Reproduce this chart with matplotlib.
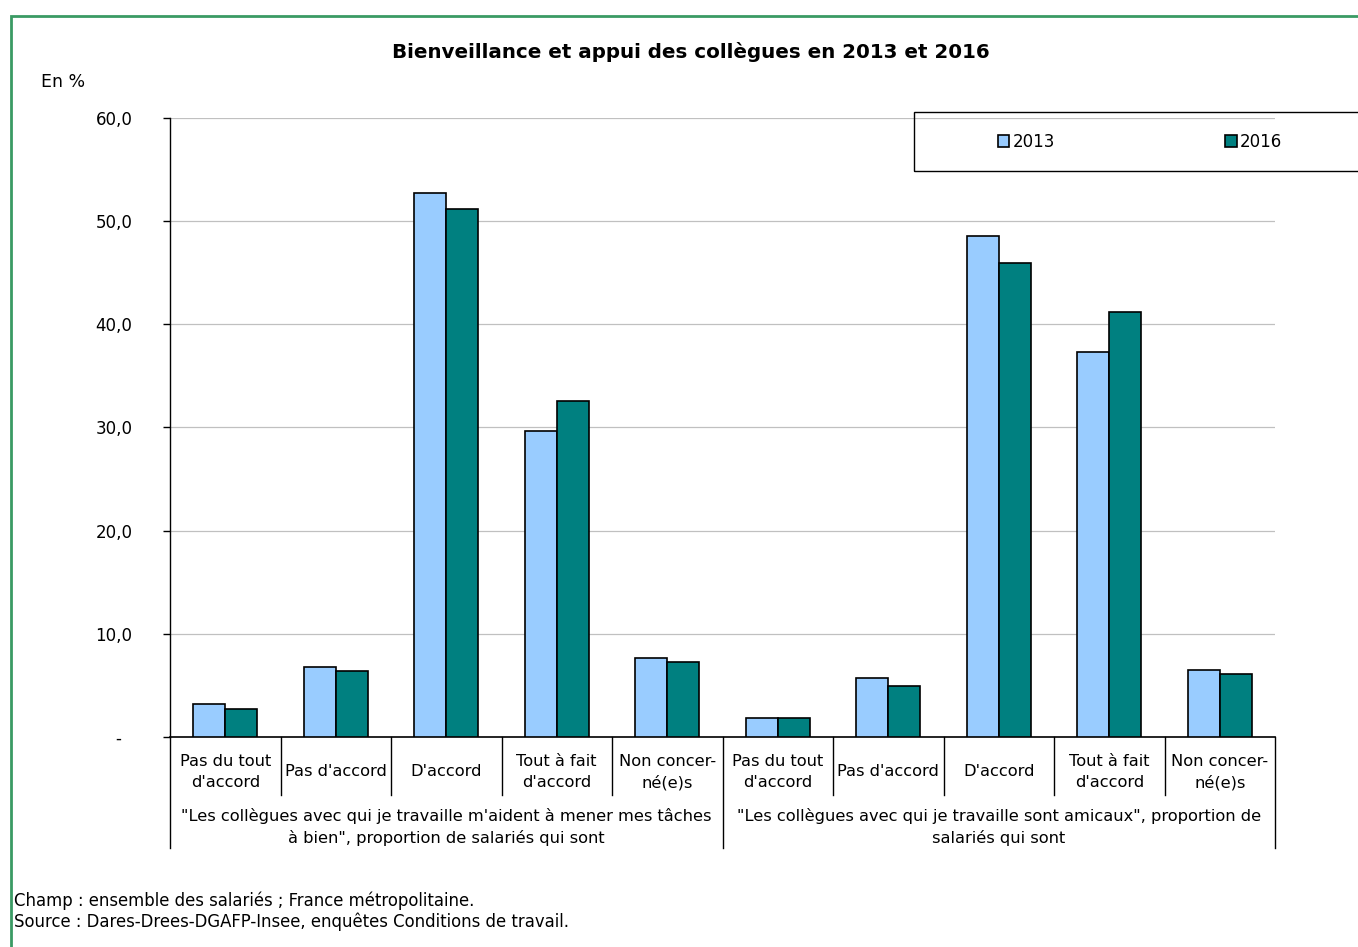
import matplotlib.pyplot as plt
from matplotlib.patches import Rectangle
import numpy as np

plt.rcParams['font.family'] = ['DejaVu Sans']

categories = ["Pas du tout\nd'accord", "Pas d'accord", "D'accord", "Tout à fait\nd'accord", "Non concer-\nné(e)s",
              "Pas du tout\nd'accord", "Pas d'accord", "D'accord", "Tout à fait\nd'accord", "Non concer-\nné(e)s"]
groups = ["\"Les collègues avec qui je travaille m'aident à mener mes tâches\nà bien\", proportion de salariés qui sont",
          "\"Les collègues avec qui je travaille sont amicaux\", proportion de\nsalariés qui sont"]
values_2013 = [3.2, 6.8, 52.7, 29.7, 7.7, 1.8, 5.7, 48.6, 37.3, 6.5]
values_2016 = [2.7, 6.4, 51.2, 32.6, 7.3, 1.8, 4.9, 45.9, 41.2, 6.1]
yticks = [0, 10, 20, 30, 40, 50, 60]

fig = plt.figure(figsize=(13.58, 9.47), dpi=100)
ax = fig.add_axes([170/1358, 1-737/947, (1275-170)/1358, (737-118)/947])

x = np.arange(len(categories))
w = 0.29
ax.bar(x - w/2, values_2013, w, color="#99CCFF", edgecolor="black", linewidth=1.2, label="2013", zorder=3)
ax.bar(x + w/2, values_2016, w, color="#008080", edgecolor="black", linewidth=1.2, label="2016", zorder=3)

ax.set_xlim(-0.5, len(categories) - 0.5)
ax.set_ylim(0, 60)
ax.set_yticks(yticks)
ax.set_yticklabels([("%.1f" % v).replace(".", ",") if v else "-  " for v in yticks], fontsize=12)
ax.set_xticks([])
ax.tick_params(axis="y", length=5, width=1, pad=22)
ax.grid(axis="y", color="#c0c0c0", linewidth=0.9, zorder=0)
for s in ["top", "right"]:
    ax.spines[s].set_visible(False)
ax.spines["left"].set_linewidth(1)
ax.spines["bottom"].set_linewidth(1.2)

# separators under the axis
tr = ax.get_xaxis_transform()
for b in np.arange(-0.5, len(categories), 1):
    deep = b in (-0.5, 4.5, 9.5)
    ax.plot([b, b], [0, -0.179 if deep else -0.0937], color="black", lw=1, transform=tr, clip_on=False)
for i, c in enumerate(categories):
    ax.text(i, -0.0565, c, transform=tr, ha="center", va="center", fontsize=11.7, linespacing=1.45)
for g, lab in enumerate(groups):
    ax.text(2 + 5*g, -0.146, lab, transform=tr, ha="center", va="center", fontsize=11.7, linespacing=1.45)

# legend box
fig.patches.append(Rectangle((914/1358, 1-171/947), 0.5, 59/947, transform=fig.transFigure,
                             fill=False, edgecolor="black", linewidth=1))
fig.legend(loc="center", bbox_to_anchor=(1140/1358, 1-142/947), ncol=2, frameon=False,
           handlelength=0.7, handleheight=0.7, handletextpad=0.2, columnspacing=10.2, fontsize=12)

fig.text(691/1358, 1-52/947, "Bienveillance et appui des collègues en 2013 et 2016",
         ha="center", va="center", fontsize=14.3, fontweight="bold")
fig.text(41/1358, 1-82/947, "En %", ha="left", va="center", fontsize=12.5)
fig.text(14/1358, 1-901/947, "Champ : ensemble des salariés ; France métropolitaine.", ha="left", va="center", fontsize=11.9)
fig.text(14/1358, 1-922/947, "Source : Dares-Drees-DGAFP-Insee, enquêtes Conditions de travail.", ha="left", va="center", fontsize=11.9)

fig.patches.append(Rectangle((11/1358, -0.1), 1.5, 1.1 - 16/947, transform=fig.transFigure,
                             fill=False, edgecolor="#3a9a64", linewidth=2))

fig.savefig("out.png", dpi=100)
